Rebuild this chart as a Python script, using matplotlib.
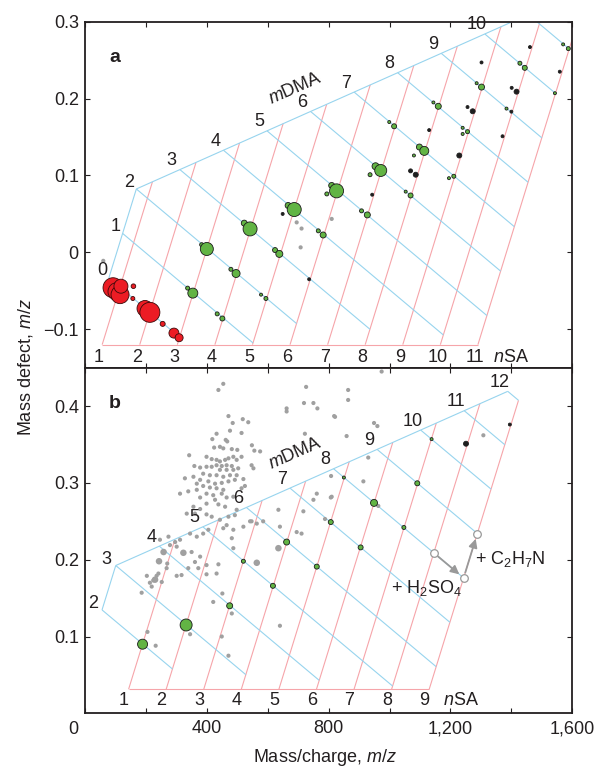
import numpy as np
import matplotlib
matplotlib.use('Agg')
import matplotlib.pyplot as plt

plt.rcParams['font.family'] = ['Liberation Sans', 'DejaVu Sans']
plt.rcParams['mathtext.fontset'] = 'custom'
plt.rcParams['mathtext.rm'] = 'Liberation Sans'
plt.rcParams['mathtext.it'] = 'Liberation Sans:italic'
plt.rcParams['mathtext.bf'] = 'Liberation Sans:bold'

# monoisotopic step vectors (mass, mass defect)
SA = (97.9674, -0.0326)
DMA = (45.0578, 0.0578)

# lattice origins
BASE_A = (16.7, -0.0126)
BASE_B = (1.0073, 0.0073)

# panel a: negative clusters
red_mz = [92, 105, 115, 118, 159, 157, 197, 213, 255, 292, 309]
red_dm = [-0.046, -0.051, -0.055, -0.044, -0.044, -0.060, -0.073, -0.078, -0.093, -0.105, -0.111]
red_r = [10, 9, 9, 7, 2.3, 2, 8, 10, 2.5, 5, 4]

green_a_mz = [337, 354, 383, 400, 434, 451, 479, 496, 523, 542, 578, 594, 624, 638, 667, 687,
              766, 782, 794, 810, 826, 908, 927, 936, 954, 971, 999, 1015, 1053, 1069, 1080,
              1098, 1114, 1144, 1160, 1195, 1211, 1240, 1240, 1256, 1286, 1302, 1384, 1428,
              1444, 1543, 1570, 1587]
green_a_dm = [-0.0465, -0.053, 0.010, 0.0044, -0.080, -0.086, -0.022, -0.0275, 0.038, 0.0305,
              -0.055, -0.060, 0.003, -0.002, 0.061, 0.0557, 0.028, 0.0226, 0.076, 0.087, 0.080,
              0.054, 0.0487, 0.101, 0.112, 0.1065, 0.1695, 0.164, 0.079, 0.074, 0.126, 0.137,
              0.132, 0.195, 0.190, 0.0965, 0.099, 0.162, 0.154, 0.157, 0.220, 0.215, 0.187,
              0.246, 0.240, 0.207, 0.2705, 0.265]
green_a_r = [2, 5, 2, 6.5, 2, 2.5, 2, 4, 3, 7, 1.5, 2, 2.5, 3.5, 3, 7, 2, 3, 2, 3, 7, 2, 3, 2,
             3.5, 6, 1.5, 2.5, 1.5, 2.5, 1.5, 3, 4.5, 1.5, 3, 1.5, 2, 1.5, 1.5, 2, 1.5, 3, 1.5,
             2, 2.5, 1.5, 1.5, 2]

black_a_mz = [649, 736, 943, 1069, 1086, 1130, 1229, 1256, 1273, 1302, 1371, 1400, 1401, 1417,
              1461, 1559]
black_a_dm = [0.050, -0.035, 0.075, 0.106, 0.101, 0.159, 0.126, 0.189, 0.1835, 0.247, 0.151,
              0.183, 0.214, 0.209, 0.267, 0.235]
black_a_r = [1.5, 1.5, 1.5, 2, 2.5, 1.5, 2.5, 1.5, 2.5, 1.5, 1.5, 1.5, 1.5, 2.5, 1.5, 1.5]

gray_a_mz = [60, 695, 711, 708, 810]
gray_a_dm = [-0.011, 0.039, 0.031, 0.0065, 0.0435]

# panel b: positive clusters
green_b_mz = [189, 332, 475, 520, 617, 662, 761, 807, 850, 905, 949, 1047, 1091, 1138]
green_b_dm = [0.090, 0.115, 0.140, 0.198, 0.166, 0.223, 0.191, 0.249, 0.307, 0.216, 0.274,
              0.242, 0.2995, 0.357]
green_b_r = [5, 6, 3, 2, 2.5, 3, 2.5, 2.5, 1.5, 2.5, 3.5, 2, 2.5, 1.5]

black_b_mz = [1251, 1395]
black_b_dm = [0.351, 0.376]
black_b_r = [2.5, 1.5]

gray_b_mz = [454, 438, 726, 662, 662, 719, 750, 763, 722, 821, 471, 432, 418, 518, 536, 485,
             514, 476, 462, 467, 443, 424, 454, 482, 500, 548, 556, 575, 342, 399, 416, 432,
             443, 460, 471, 487, 498, 514, 432, 416, 399, 378, 359, 449, 465, 482, 443, 465,
             487, 503, 547, 553, 388, 410, 432, 454, 476, 498, 328, 356, 378, 405, 427, 449,
             471, 492, 520, 367, 388, 410, 432, 454, 367, 339, 399, 421, 449, 514, 525, 312,
             378, 427, 465, 487, 399, 438, 460, 498, 356, 378, 334, 361, 399, 416, 443, 471,
             492, 542, 564, 520, 487, 465, 405, 388, 367, 345, 312, 296, 274, 246, 279, 301,
             350, 378, 399, 361, 372, 339, 317, 301, 270, 268, 241, 235, 224, 213, 252, 219,
             203, 186, 438, 432, 454, 482, 487, 547, 585, 640, 695, 711, 717, 750, 761, 807,
             635, 399, 451, 421, 482, 449, 640, 205, 232, 345, 471, 974, 864, 864, 818, 949,
             960, 859, 1308, 930, 808, 914, 810, 788, 963]
gray_b_dm = [0.429, 0.421, 0.425, 0.397, 0.393, 0.404, 0.404, 0.397, 0.364, 0.386, 0.387,
             0.364, 0.357, 0.383, 0.379, 0.378, 0.365, 0.368, 0.356, 0.354, 0.347, 0.346, 0.345,
             0.344, 0.343, 0.349, 0.342, 0.341, 0.336, 0.334, 0.331, 0.330, 0.328, 0.330, 0.332,
             0.334, 0.330, 0.334, 0.323, 0.321, 0.321, 0.320, 0.322, 0.322, 0.323, 0.322, 0.317,
             0.317, 0.317, 0.319, 0.323, 0.319, 0.312, 0.310, 0.310, 0.308, 0.310, 0.310, 0.306,
             0.308, 0.304, 0.302, 0.299, 0.300, 0.302, 0.304, 0.305, 0.299, 0.296, 0.294, 0.293,
             0.291, 0.291, 0.289, 0.286, 0.284, 0.286, 0.293, 0.296, 0.286, 0.281, 0.278, 0.281,
             0.282, 0.273, 0.272, 0.269, 0.265, 0.269, 0.266, 0.260, 0.260, 0.259, 0.256, 0.252,
             0.256, 0.258, 0.250, 0.247, 0.243, 0.239, 0.245, 0.239, 0.234, 0.230, 0.234, 0.226,
             0.223, 0.230, 0.226, 0.219, 0.217, 0.210, 0.204, 0.193, 0.197, 0.189, 0.189, 0.180,
             0.179, 0.195, 0.189, 0.182, 0.179, 0.173, 0.170, 0.171, 0.165, 0.179, 0.157, 0.194,
             0.182, 0.241, 0.228, 0.215, 0.250, 0.250, 0.243, 0.236, 0.234, 0.263, 0.278, 0.286,
             0.281, 0.265, 0.181, 0.156, 0.145, 0.130, 0.100, 0.114, 0.106, 0.088, 0.103, 0.075,
             0.445, 0.421, 0.408, 0.387, 0.378, 0.374, 0.361, 0.362, 0.333, 0.309, 0.302, 0.282,
             0.253, 0.270]

gray_big_b_mz = [243, 258, 230, 564, 635, 323]
gray_big_b_dm = [0.198, 0.210, 0.174, 0.196, 0.215, 0.209]

# H2SO4 / C2H7N addition example, as (nSA, mDMA)
arrow_nodes = [(8, 8), (9, 8), (9, 9)]

PINK = '#f6a5aa'
BLUE = '#97d4ee'
TXT = '#231f20'
RED = '#ec1c24'
GREEN = '#62b444'
FS = 13


def node(base, n, m):
    return base[0] + n * SA[0] + m * DMA[0], base[1] + n * SA[1] + m * DMA[1]


def bottom_t(base, n, y_bot):
    return (y_bot - base[1] - n * SA[1]) / DMA[1]


def lattice(ax, base, n_max, m_min, m_top, m_max, n_left, y_bot, m_lab_max,
            left_off, top_off, bot_off, nsa_off):
    c = n_left - m_top
    kw = dict(lw=0.8, solid_capstyle='butt', zorder=1)
    for n in range(1, n_max + 1):
        x0, y0 = node(base, n, bottom_t(base, n, y_bot))
        x1, y1 = node(base, n, min(n - c, m_max))
        ax.plot([x0, x1], [y0, y1], color=PINK, **kw)
        ax.annotate(str(n), (x0, y0), xytext=bot_off, textcoords='offset points',
                    ha='center', va='center', fontsize=FS, color=TXT)
    xb0 = node(base, 1, bottom_t(base, 1, y_bot))[0]
    xb1 = node(base, n_max, bottom_t(base, n_max, y_bot))[0]
    ax.plot([xb0, xb1], [y_bot, y_bot], color=PINK, **kw)
    ax.annotate('$n$SA', (xb1, y_bot), xytext=nsa_off, textcoords='offset points',
                ha='left', va='center', fontsize=FS, color=TXT)
    for m in range(m_min, m_max + 1):
        n0 = max(n_left, m + c)
        n1 = min(n_max, int(np.floor((base[1] + m * DMA[1] - y_bot) / -SA[1])))
        if n1 <= n0:
            continue
        x0, y0 = node(base, n0, m)
        x1, y1 = node(base, n1, m)
        ax.plot([x0, x1], [y0, y1], color=BLUE, **kw)
    x0, y0 = node(base, n_left, m_min)
    x1, y1 = node(base, n_left, m_top)
    ax.plot([x0, x1], [y0, y1], color=BLUE, **kw)
    x2, y2 = node(base, n_left + m_max - m_top, m_max)
    ax.plot([x1, x2], [y1, y2], color=BLUE, **kw)
    for m in range(m_min, m_top + 1):
        ax.annotate(str(m), node(base, n_left, m), xytext=left_off, textcoords='offset points',
                    ha='center', va='center', fontsize=FS, color=TXT)
    for m in range(m_top + 1, m_lab_max + 1):
        ax.annotate(str(m), node(base, m + c, m), xytext=top_off, textcoords='offset points',
                    ha='center', va='center', fontsize=FS, color=TXT)


def dots(ax, mz, dm, r, face, edge, z):
    s = [(1.44 * v) ** 2 for v in r]
    ax.scatter(mz, dm, s=s, c=face, edgecolors=edge, linewidths=0.6, zorder=z)


fig = plt.figure(figsize=(5.97, 7.67), dpi=100)
ax_a = fig.add_axes([0.1424, 0.5206, 0.8162, 0.4511])
ax_b = fig.add_axes([0.1424, 0.0700, 0.8162, 0.4506])

for ax in (ax_a, ax_b):
    ax.set_xlim(0, 1600)
    ax.set_xticks([0, 400, 800, 1200, 1600])
    ax.set_xticks([200, 600, 1000, 1400], minor=True)
    ax.tick_params(which='both', direction='in', top=True, right=True, length=3.8,
                   width=0.8, color=TXT, labelsize=FS, labelcolor=TXT)
    ax.tick_params(axis='y', pad=4.5)
    ax.tick_params(axis='x', pad=5)
    for sp in ax.spines.values():
        sp.set_linewidth(1.3)
        sp.set_color(TXT)

ax_a.set_ylim(-0.15, 0.3)
ax_a.set_yticks([-0.1, 0, 0.1, 0.2, 0.3])
ax_a.set_yticklabels(['\u22120.1', '0', '0.1', '0.2', '0.3'])
ax_a.tick_params(labelbottom=False)

ax_b.set_ylim(0, 0.45)
ax_b.set_yticks([0.1, 0.2, 0.3, 0.4])
ax_b.set_yticklabels(['0.1', '0.2', '0.3', '0.4'])
ax_b.set_xticklabels(['', '400', '800', '1,200', '1,600'])
ax_b.annotate('0', (0, 0), xycoords=('data', 'axes fraction'), xytext=(-8.5, -11.3),
              textcoords='offset points', ha='center', va='center', fontsize=FS, color=TXT)

# panel a
lattice(ax_a, BASE_A, 11, 0, 2, 12, 0.63, -0.12, 10,
        left_off=(-5, 5), top_off=(-5.8, 6.5), bot_off=(-2.2, -9), nsa_off=(10.5, -9))
ax_a.text(692, 0.213, '$m$DMA', rotation=23.9, ha='center', va='center', fontsize=FS,
          color=TXT, rotation_mode='anchor')
ax_a.text(98.6, 0.254, 'a', fontsize=14, fontweight='bold', ha='center', va='center', color=TXT)
ax_a.scatter(gray_a_mz, gray_a_dm, s=9, c='#a0a0a0', edgecolors='none', zorder=2)
dots(ax_a, red_mz, red_dm, red_r, RED, '#3a0a0a', 3)
dots(ax_a, green_a_mz, green_a_dm, green_a_r, GREEN, '#1a1a1a', 3)
dots(ax_a, black_a_mz, black_a_dm, black_a_r, '#1e1e1e', '#1e1e1e', 3)

# panel b
lattice(ax_b, BASE_B, 9, 2, 3, 12, -0.36, 0.0313, 12,
        left_off=(-6.5, 4.5), top_off=(-5.8, 6.5), bot_off=(-3.3, -8.2), nsa_off=(10, -8.2))
ax_b.text(692, 0.3385, '$m$DMA', rotation=23.9, ha='center', va='center', fontsize=FS,
          color=TXT, rotation_mode='anchor')
ax_b.text(98.5, 0.4037, 'b', fontsize=14, fontweight='bold', ha='center', va='center', color=TXT)
ax_b.scatter(gray_b_mz, gray_b_dm, s=9, c='#a0a0a0', edgecolors='none', zorder=2)
ax_b.scatter(gray_big_b_mz, gray_big_b_dm, s=22, c='#a0a0a0', edgecolors='none', zorder=2)
dots(ax_b, green_b_mz, green_b_dm, green_b_r, GREEN, '#1a1a1a', 3)
dots(ax_b, black_b_mz, black_b_dm, black_b_r, '#1e1e1e', '#1e1e1e', 3)

pts = [node(BASE_B, n, m) for n, m in arrow_nodes]
for p, q in zip(pts[:-1], pts[1:]):
    ax_b.annotate('', xy=q, xytext=p,
                  arrowprops=dict(arrowstyle='-|>,head_length=0.5,head_width=0.25', color='#999999',
                                  lw=1.3, shrinkA=4, shrinkB=4), zorder=4)
ax_b.scatter([p[0] for p in pts], [p[1] for p in pts], s=30, c='white', edgecolors='#999999',
             linewidths=0.9, zorder=5)
ax_b.text(1120, 0.1627, '+ H$_2$SO$_4$', ha='center', va='center', fontsize=FS, color=TXT)
ax_b.text(1280, 0.2009, '+ C$_2$H$_7$N', ha='left', va='center', fontsize=FS, color=TXT)

fig.text(325 / 597, 1 - 757 / 767, 'Mass/charge, $m/z$', ha='center', va='center',
         fontsize=FS, color=TXT)
fig.text(25.5 / 597, 1 - 367.5 / 767, 'Mass defect, $m/z$', ha='center', va='center',
         rotation=90, fontsize=FS, color=TXT)

fig.savefig('out.png', dpi=100)
